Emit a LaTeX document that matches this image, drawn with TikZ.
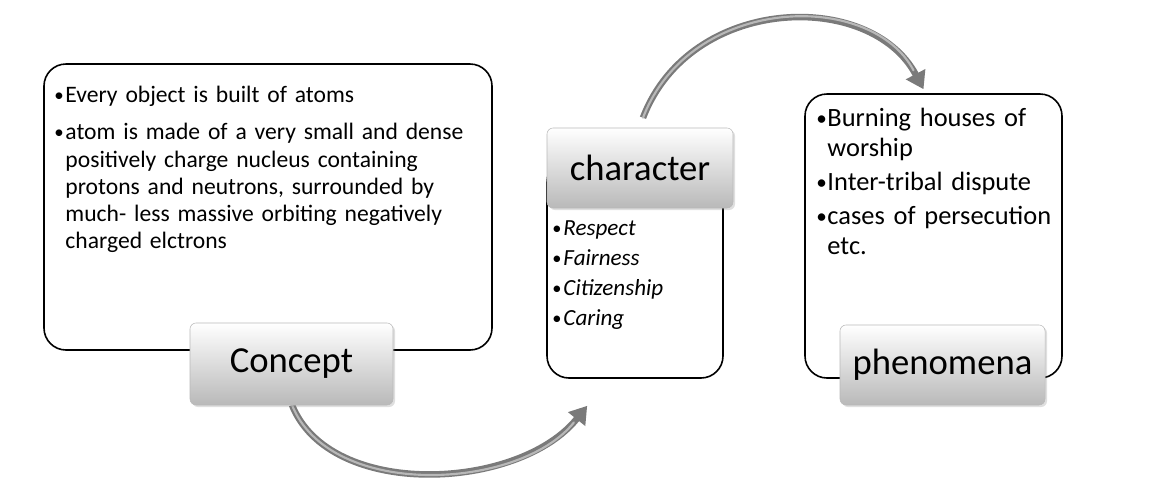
\documentclass[tikz,border=0pt]{standalone}
\usepackage{fontspec}
\setmainfont{Carlito}
\usetikzlibrary{arrows.meta,shadows}
\newdimen\pxu \pxu=0.75pt
% bullet item with hanging indent
\newcommand{\blt}[1]{\par\hangindent=11\pxu\hangafter=1\noindent
  \makebox[11\pxu][l]{\raisebox{0.1ex}{\scalebox{0.8}{\textbullet}}}#1\par}

\begin{document}
\begin{tikzpicture}[x=0.75pt, y=-0.75pt,
    txtbox/.style={rectangle, rounded corners=22\pxu, draw=black,
                   line width=1.6\pxu, fill=white},
    lbl/.style={rectangle, rounded corners=6\pxu, draw=gray!55,
                top color=white, bottom color=gray!55, inner sep=0pt,
                drop shadow={opacity=0.25, shadow xshift=1.5pt, shadow yshift=-1.5pt},
                font=\fontsize{27.5}{30}\selectfont},
    lst/.style={anchor=north west, inner sep=0pt, align=left},
    arr/.style={line width=4.9pt, color=black!52,
                -{Triangle[length=12.75pt, width=15.75pt]}},
    glint/.style={line width=1.6pt, color=black!28, line cap=round}]

    \useasboundingbox (0,0) rectangle (1162,490);

    % text boxes
    \node[txtbox, minimum width=448\pxu, minimum height=286\pxu] (conceptbox) at (268,207) {};
    \node[txtbox, minimum width=176\pxu, minimum height=218\pxu] (charbox) at (635,269) {};
    \node[txtbox, minimum width=257\pxu, minimum height=284\pxu] (phenbox) at (933.5,236) {};

    % box contents
    \node[lst, text width=430\pxu,
          font={\fontsize{17.7}{20.3}\selectfont\raggedright\setlength{\parskip}{8pt}}] (conceptlst)
        at ([shift={(11,1)}]conceptbox.north west)
        {\blt{Every object is built of atoms}
         \blt{atom is made of a very small and dense\newline
              positively charge nucleus containing\newline
              protons and neutrons, surrounded by\newline
              much- less massive orbiting negatively\newline
              charged elctrons}};
    \node[lst, text width=170\pxu,
          font={\fontsize{17.3}{22.5}\selectfont\raggedright}] (charlst)
        at ([shift={(6,46)}]charbox.north west)
        {\blt{\textit{Respect}}
         \blt{\textit{Fairness}}
         \blt{\textit{Citizenship}}
         \blt{\textit{Caring}}};
    \node[lst, text width=245\pxu,
          font={\fontsize{19.8}{22.5}\selectfont\raggedright\setlength{\parskip}{3pt}}] (phenlst)
        at ([shift={(12,-1)}]phenbox.north west)
        {\blt{Burning houses of\newline worship}
         \blt{Inter-tribal dispute}
         \blt{cases of persecution\newline etc.}};

    % curved arrow under the first label
    \coordinate (a0) at (292,405);
    \draw[arr] (a0) .. controls +(38,95) and +(-68,85) .. ([shift={(41,27)}]charbox.south west);
    \draw[glint, shorten >=16pt] (a0) .. controls +(38,95) and +(-68,85) .. ([shift={(41,27)}]charbox.south west);

    % labels
    \node[lbl, minimum width=203\pxu, minimum height=82\pxu] (conceptlbl) at (291.5,364) {Concept};
    \node[lbl, minimum width=186\pxu, minimum height=80\pxu] (charlbl) at (640,168) {character};
    \node[lbl, minimum width=205\pxu, minimum height=80\pxu] (phenlbl) at (942.5,365) {phenomena};

    % curved arrow over the top
    \draw[arr] ([shift={(3,-10)}]charlbl.north) .. controls +(47,-123) and +(-53,-100) .. ([shift={(-10,-4)}]phenbox.north);
    \draw[glint, shorten >=16pt] ([shift={(3,-10)}]charlbl.north) .. controls +(47,-123) and +(-53,-100) .. ([shift={(-10,-4)}]phenbox.north);

\end{tikzpicture}
\end{document}
